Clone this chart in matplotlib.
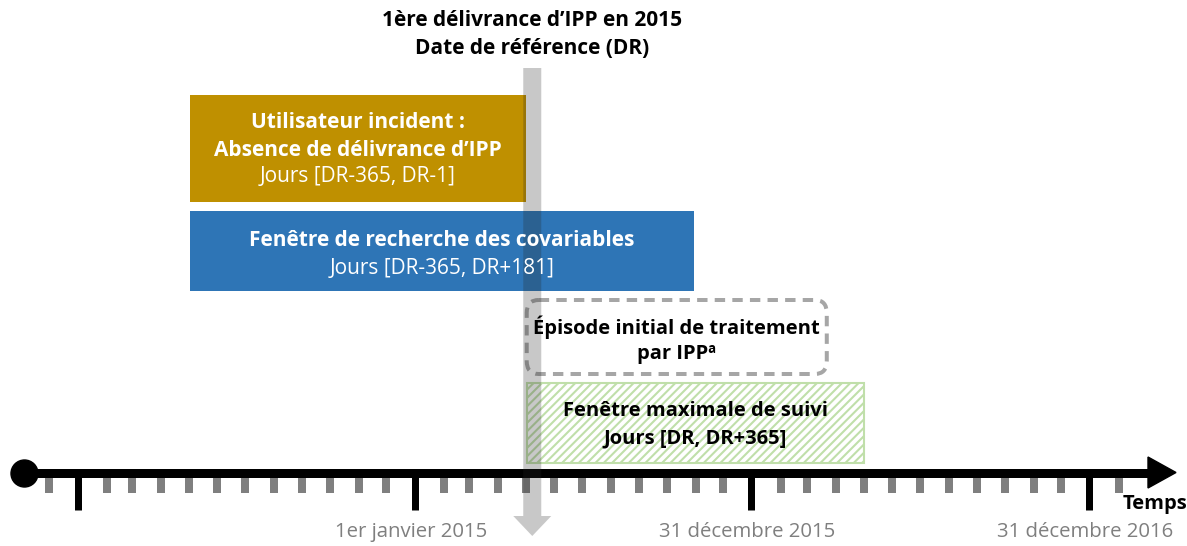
""" Timeline of the study design: incident users of IPP, reference date and windows.
"""

import numpy as np
import pandas as pd
import matplotlib.pyplot as plt
from matplotlib.patches import Rectangle, FancyBboxPatch, Polygon

plt.rcParams['font.family'] = ['Open Sans', 'DejaVu Sans']
plt.rcParams['hatch.linewidth'] = 1.5

# dates (days counted from 1 Jan 2015)
origin = pd.Timestamp('2015-01-01')
major_dates = ['2014-01-01', '2015-01-01', '2015-12-31', '2016-12-31']
major_labels = ['', '1er janvier 2015', '31 décembre 2015', '31 décembre 2016']
minor_dates = pd.date_range('2013-12-01', '2017-02-01', freq='MS')
ref_date = '2015-05-02'

# windows, in days relative to the reference date (DR)
incident_window = (-365, -1)
covariate_window = (-365, 181)
episode_window = (0, 325)
followup_window = (0, 365)

title_lines = ['1ère délivrance d\u2019IPP en 2015', 'Date de référence (DR)']
incident_lines = ['Utilisateur incident :', 'Absence de délivrance d\u2019IPP',
                  'Jours [DR-365, DR-1]']
covariate_lines = ['Fenêtre de recherche des covariables', 'Jours [DR-365, DR+181]']
episode_lines = ['Épisode initial de traitement', 'par IPP\u00aa']
followup_lines = ['Fenêtre maximale de suivi', 'Jours [DR, DR+365]']


def to_day(date):
    return (pd.Timestamp(date) - origin).days


# pixel scale: one year is 337 px wide, 1 Jan 2015 sits at x=415
px_per_day = 337 / 365.


def px(x):
    return (x - 415) / px_per_day


fig = plt.figure(figsize=(11.87, 5.46), dpi=100)
ax = fig.add_axes([0, 0, 1, 1])
ax.set_xlim(px(0), px(1187))
ax.set_ylim(546, 0)
ax.axis('off')

dr = to_day(ref_date)
lw_px = 72 / 100.
fs = 15

# timeline
ax.plot([px(24), px(1150)], [472.5, 472.5], color='black', lw=9 * lw_px,
        solid_capstyle='butt', zorder=3)
ax.plot([px(24)], [472.5], 'o', color='black', ms=27 * lw_px, zorder=4)
ax.add_patch(Polygon([[px(1148), 457], [px(1176), 472.5], [px(1148), 488]],
                     closed=True, color='black', zorder=4))

minor_x = [to_day(d) for d in minor_dates]
major_x = [to_day(d) for d in major_dates]
minor_x = [x for x in minor_x if min(abs(x - m) for m in major_x) > 5]
ax.vlines(minor_x, 476, 493, color='#7f7f7f', lw=8 * lw_px, zorder=2)
ax.vlines(major_x, 476, 510, color='black', lw=7 * lw_px, zorder=2)

for x, label in zip(major_x, major_labels):
    ax.text(x - 4, 532, label, ha='center', va='center', fontsize=fs - 0.3,
            color='#7f7f7f')

ax.text(px(1187), 504, 'Temps', ha='right', va='center', fontsize=fs - 0.5,
        fontweight='bold', color='black')

# windows
box_rows = {'incident': (95, 202), 'covariate': (211, 291),
            'episode': (300, 374), 'followup': (383, 463)}

y0, y1 = box_rows['incident']
ax.add_patch(Rectangle((dr + incident_window[0], y0),
                       incident_window[1] - incident_window[0], y1 - y0,
                       facecolor='#bf9000', edgecolor='none', zorder=1))
xc = dr + np.mean(incident_window)
for i, line in enumerate(incident_lines):
    ax.text(xc, 123 + i * 27, line, ha='center', va='center', fontsize=fs,
            color='white', fontweight='bold' if i < 2 else 'normal', zorder=6)

y0, y1 = box_rows['covariate']
ax.add_patch(Rectangle((dr + covariate_window[0], y0),
                       covariate_window[1] - covariate_window[0], y1 - y0,
                       facecolor='#2e75b6', edgecolor='none', zorder=1))
xc = dr + np.mean(covariate_window)
for i, line in enumerate(covariate_lines):
    ax.text(xc, 241 + i * 27, line, ha='center', va='center', fontsize=fs,
            color='white', fontweight='bold' if i == 0 else 'normal', zorder=6)

y0, y1 = box_rows['episode']
ax.add_patch(FancyBboxPatch((dr + episode_window[0], y0),
                            episode_window[1] - episode_window[0], y1 - y0,
                            boxstyle='round,pad=0,rounding_size=13',
                            facecolor='none', edgecolor='#a6a6a6',
                            lw=4 * lw_px, ls=(0, (2.6, 1.8)), zorder=1))
xc = dr + np.mean(episode_window)
for i, line in enumerate(episode_lines):
    ax.text(xc, 327 + i * 27, line, ha='center', va='center', fontsize=fs - 0.5,
            color='black', fontweight='bold', zorder=6)

y0, y1 = box_rows['followup']
ax.add_patch(Rectangle((dr + followup_window[0], y0),
                       followup_window[1] - followup_window[0], y1 - y0,
                       facecolor='white', edgecolor='#c0dfaa', hatch='////',
                       lw=1.5, zorder=1))
xc = dr + np.mean(followup_window)
for i, line in enumerate(followup_lines):
    ax.text(xc, 411 + i * 27, line, ha='center', va='center', fontsize=fs - 0.5,
            color='black', fontweight='bold', zorder=6)

# reference date arrow
half = 9 / px_per_day
head = 19 / px_per_day
xa = dr + 6
ax.add_patch(Polygon([[xa - half, 68], [xa + half, 68], [xa + half, 516],
                      [xa + head, 516], [xa, 536], [xa - head, 516],
                      [xa - half, 516]],
                     closed=True, facecolor='#262626', edgecolor='none',
                     alpha=0.25, zorder=5))

for i, line in enumerate(title_lines):
    ax.text(xa, 20 + i * 28, line, ha='center', va='center', fontsize=fs,
            color='black', fontweight='bold')

fig.savefig('out.png', dpi=100)
